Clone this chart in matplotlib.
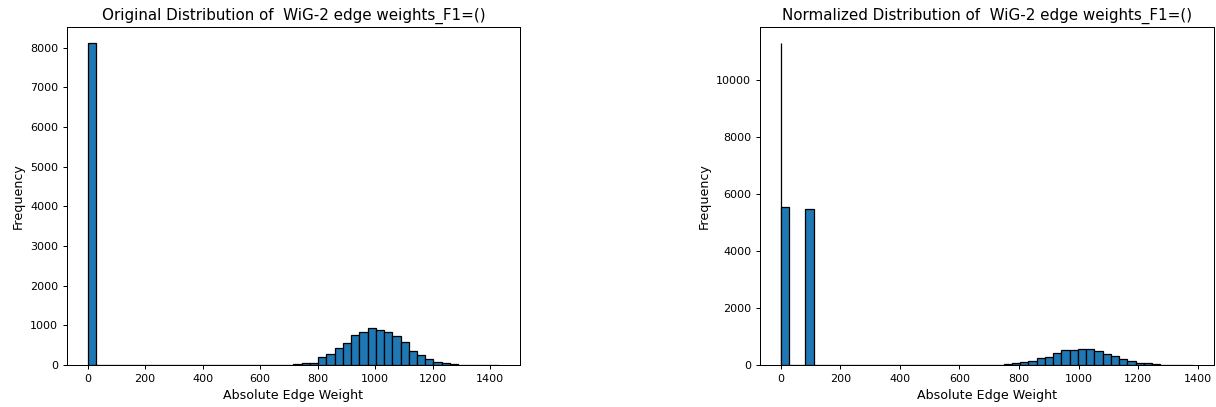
import matplotlib.pyplot as plt
import numpy as np

# bin counts (50 bins each)
orig_max = 1432
orig_counts = [8120] + [0]*24 + [25, 60, 60, 190, 275, 430, 560, 760, 830, 930,
                                 880, 830, 720, 580, 360, 250, 150, 70, 40, 15,
                                 5, 3, 1, 1, 1]

norm_max = 1385
norm_counts = [5530, 0, 0, 5470] + [0]*23 + [25, 60, 105, 150, 245, 280, 410, 540,
                                             540, 575, 575, 500, 385, 315, 210, 130,
                                             80, 55, 25, 5, 3, 1, 1]
# the normalised weights (0..1) drawn on top, all in the first bin
unit_counts = [11300] + [0]*49

title = "Distribution of  WiG-2 edge weights_F1=()"

plt.rcParams['xtick.labelsize'] = 8.8
plt.rcParams['ytick.labelsize'] = 8.8
plt.rcParams['axes.labelsize'] = 10
plt.rcParams['axes.titlesize'] = 12

dpi = 91
fig = plt.figure(figsize=(1216/dpi, 407/dpi), dpi=dpi)
ax1 = fig.add_axes([0.0551, 0.1032, 0.3725, 0.8305])
ax2 = fig.add_axes([0.625, 0.1032, 0.3734, 0.8305])

edges1 = np.linspace(0, orig_max, 51)
ax1.hist(edges1[:-1], bins=edges1, weights=orig_counts, edgecolor='black')
ax1.set_title("Original " + title)
ax1.set_xlabel("Absolute Edge Weight")
ax1.set_ylabel("Frequency")

edges2 = np.linspace(0, norm_max, 51)
edges3 = np.linspace(0, 1, 51)
ax2.hist(edges3[:-1], bins=edges3, weights=unit_counts, edgecolor='black')
ax2.hist(edges2[:-1], bins=edges2, weights=norm_counts, edgecolor='black', color='C0')
ax2.set_title("Normalized " + title)
ax2.set_xlabel("Absolute Edge Weight")
ax2.set_ylabel("Frequency")

fig.savefig("out.png", dpi=dpi)
